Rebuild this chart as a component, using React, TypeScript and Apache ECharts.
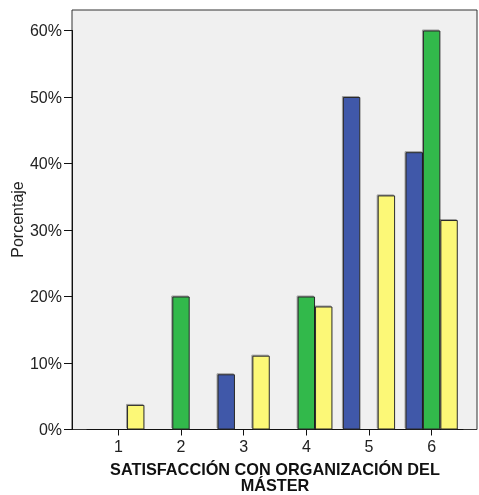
import React, { useEffect, useRef } from 'react';
import * as echarts from 'echarts';

const categories = ['1', '2', '3', '4', '5', '6'];
const blueValues = [null, null, 8.3, null, 50, 41.7];
const greenValues = [null, 20, null, 20, null, 60];
const yellowValues = [3.7, null, 11.1, 18.5, 35.2, 31.5];
const yTicks = [0, 10, 20, 30, 40, 50, 60];
const xTitle = 'SATISFACCIÓN CON ORGANIZACIÓN DEL\nMÁSTER';
const yTitle = 'Porcentaje';

const FONT = '"Liberation Sans", Arial, sans-serif';

export default function App() {
  const ref = useRef<HTMLDivElement>(null);
  useEffect(() => {
    const chart = echarts.init(ref.current as HTMLDivElement, null, { renderer: 'svg' });
    const barStyle = (color: string) => ({
      color,
      borderColor: '#2a2a2a',
      borderWidth: 1,
      shadowColor: 'rgba(0,0,0,0.35)',
      shadowBlur: 0,
      shadowOffsetX: -1,
      shadowOffsetY: -1,
    });
    chart.setOption({
      animation: false,
      textStyle: { fontFamily: FONT },
      grid: {
        left: 87,
        right: 16,
        top: 30.5,
        bottom: 65.5,
        containLabel: false,
        outerBoundsMode: 'none',
      },
      graphic: [
        {
          type: 'rect',
          z: -10,
          shape: { x: 72, y: 10, width: 405, height: 419.5 },
          style: { fill: '#f0f0f0', stroke: '#333333', lineWidth: 1 },
          silent: true,
        },
        {
          type: 'text',
          x: 17,
          y: 219.5,
          rotation: Math.PI / 2,
          style: {
            text: yTitle,
            fontFamily: FONT,
            fontSize: 16,
            fill: '#222',
            align: 'center',
            verticalAlign: 'middle',
          },
        },
      ],
      xAxis: {
        type: 'category',
        data: categories,
        boundaryGap: true,
        axisLine: { show: true, lineStyle: { color: '#111', width: 1 } },
        axisTick: { show: true, alignWithLabel: true, length: 6, lineStyle: { color: '#111' } },
        axisLabel: { color: '#222', fontSize: 16, margin: 9, fontFamily: FONT },
        splitLine: { show: false },
        name: xTitle,
        nameLocation: 'middle',
        nameGap: 31,
        nameTextStyle: {
          color: '#111',
          fontSize: 16.3,
          fontWeight: 'bold',
          lineHeight: 16.5,
          fontFamily: FONT,
          verticalAlign: 'top',
        },
      },
      yAxis: {
        type: 'value',
        min: yTicks[0],
        max: yTicks[yTicks.length - 1],
        interval: 10,
        offset: 15,
        axisLine: { show: true, lineStyle: { color: '#111', width: 1 } },
        axisTick: { show: true, length: 8, lineStyle: { color: '#111' } },
        axisLabel: {
          color: '#222',
          fontSize: 16,
          margin: 10,
          fontFamily: FONT,
          formatter: (v: number) => `${v}%`,
        },
        splitLine: { show: false },
      },
      series: [
        {
          type: 'bar',
          data: blueValues,
          barWidth: 17.4,
          barGap: '0%',
          itemStyle: barStyle('#3f59a9'),
        },
        {
          type: 'bar',
          data: greenValues,
          barWidth: 17.4,
          barGap: '0%',
          itemStyle: barStyle('#30b94b'),
        },
        {
          type: 'bar',
          data: yellowValues,
          barWidth: 17.4,
          barGap: '0%',
          itemStyle: barStyle('#fcf877'),
        },
      ],
    });
    return () => chart.dispose();
  }, []);
  return <div ref={ref} style={{ position: 'fixed', left: 0, top: 0, width: 479, height: 495 }} />;
}
